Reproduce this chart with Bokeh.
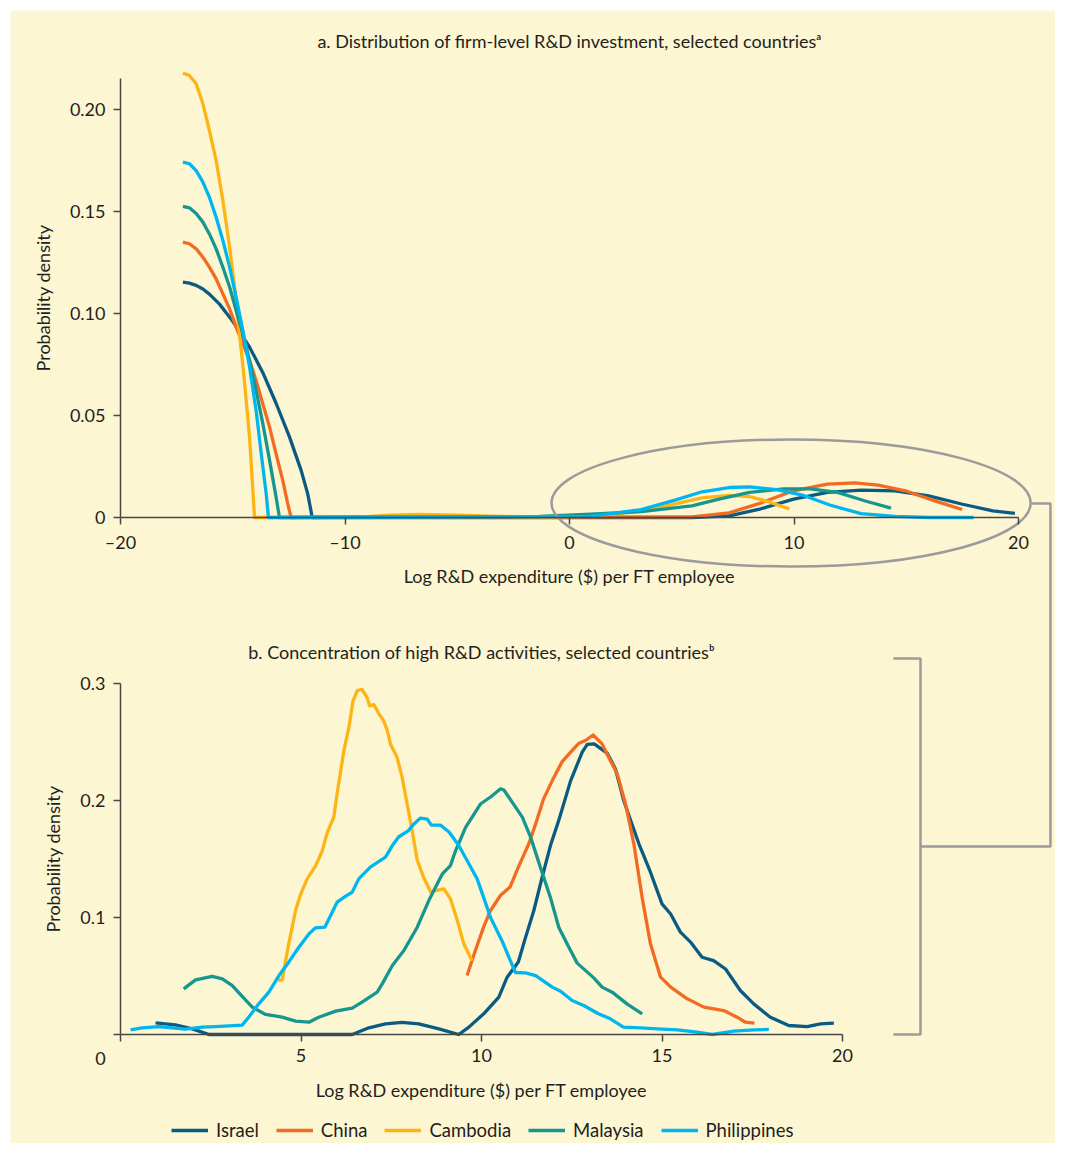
from bokeh.plotting import figure
from bokeh.models import (Range1d, LinearAxis, FixedTicker, Legend, LegendItem,
                          NumeralTickFormatter)
from bokeh.embed import file_html
from bokeh.resources import INLINE
from bokeh.core.properties import value

# ---------------- data ----------------
countries = ["Israel", "China", "Cambodia", "Malaysia", "Philippines"]

# Panel a: distribution of firm-level R&D investment
a_israel_x = [-17.22, -16.93, -16.63, -16.33, -16.04, -15.59, -15.0, -14.25, -13.66, -13.07, -12.47, -11.95,
              -11.66, -11.46, 5.45, 7.11, 8.47, 9.98, 11.49, 13.0, 14.5, 16.0, 17.51, 18.86, 19.84]
a_israel_y = [0.1154, 0.1149, 0.1138, 0.1120, 0.1095, 0.1046, 0.0962, 0.0835, 0.0710, 0.0560, 0.0394, 0.0230,
              0.0116, 0.0, 0.0, 0.0008, 0.0041, 0.009, 0.0123, 0.0134, 0.0131, 0.0106, 0.0065, 0.0033, 0.002]

a_china_x = [-17.22, -16.93, -16.63, -16.33, -16.04, -15.74, -15.44, -15.14, -14.85, -14.55, -14.25, -13.96,
             -13.66, -13.36, -13.07, -12.77, -12.55, -12.40, 5.45, 7.11, 8.47, 9.98, 11.49, 12.70, 13.75,
             14.96, 16.17, 17.49]
a_china_y = [0.135, 0.1342, 0.1317, 0.1276, 0.1227, 0.117, 0.1096, 0.1023, 0.0933, 0.0851, 0.077, 0.0672,
             0.0557, 0.0443, 0.0312, 0.0181, 0.0067, 0.0, 0.0003, 0.0023, 0.0069, 0.0131, 0.0164, 0.017, 0.0159,
             0.0131, 0.0085, 0.0039]

a_cambodia_x = [-17.22, -16.93, -16.63, -16.33, -16.04, -15.74, -15.44, -15.14, -14.92, -14.70, -14.48, -14.25,
                -14.03, -9.5, -8.0, -6.7, -5.0, -3.5, -1.6, 0.93, 3.19, 4.70, 5.90, 7.11, 8.02, 8.92, 9.80]
a_cambodia_y = [0.2178, 0.2167, 0.2126, 0.2028, 0.1897, 0.175, 0.1554, 0.1325, 0.113, 0.090, 0.067, 0.039,
                0.0, 0.0, 0.0011, 0.0015, 0.0012, 0.0007, 0.0002, 0.0006, 0.0031, 0.0067, 0.0096, 0.0108,
                0.0103, 0.0075, 0.0042]

a_malaysia_x = [-17.22, -16.93, -16.63, -16.33, -16.04, -15.74, -15.44, -15.14, -14.85, -14.55, -14.25, -13.96,
                -13.66, -13.36, -13.07, -12.92, -1.34, 0.93, 3.19, 5.45, 6.66, 8.02, 9.53, 10.73, 11.94,
                13.14, 14.32]
a_malaysia_y = [0.1525, 0.1518, 0.149, 0.1448, 0.139, 0.1317, 0.1227, 0.113, 0.1015, 0.090, 0.077, 0.0623,
                0.046, 0.028, 0.010, 0.0, 0.0005, 0.0016, 0.0029, 0.0057, 0.009, 0.0123, 0.014, 0.014, 0.0123,
                0.0082, 0.0046]

a_philippines_x = [-17.22, -16.93, -16.63, -16.33, -16.04, -15.74, -15.44, -15.14, -14.85, -14.55, -14.25,
                   -13.96, -13.73, -13.51, -13.41, 0.93, 3.19, 4.70, 5.90, 7.11, 8.02, 9.22, 10.43, 11.63,
                   12.99, 14.50, 16.01, 18.0]
a_philippines_y = [0.1742, 0.1734, 0.170, 0.1644, 0.157, 0.1472, 0.1358, 0.1227, 0.108, 0.0917, 0.0737,
                   0.0525, 0.0312, 0.0116, 0.0, 0.0006, 0.0039, 0.0085, 0.0126, 0.0147, 0.015, 0.0137, 0.0108,
                   0.006, 0.0019, 0.0006, 0.0, 0.0]

# Panel b: concentration of high R&D activities
b_israel_x = [0.97, 1.52, 1.99, 2.45, 6.42, 6.88, 7.34, 7.80, 8.26, 8.82, 9.37, 9.65, 10.06, 10.48, 10.71,
              11.02, 11.22, 11.45, 11.68, 11.91, 12.14, 12.47, 12.79, 12.93, 13.12, 13.48, 13.71, 13.94, 14.13,
              14.36, 14.68, 15.0, 15.24, 15.51, 15.79, 16.11, 16.43, 16.76, 17.17, 17.54, 18.0, 18.51, 19.02,
              19.39, 19.76]
b_israel_y = [0.010, 0.0083, 0.0048, 0.0, 0.0, 0.0057, 0.0091, 0.0103, 0.0091, 0.0048, 0.0, 0.0063, 0.0177,
              0.032, 0.049, 0.062, 0.083, 0.106, 0.1345, 0.1615, 0.183, 0.217, 0.2413, 0.248, 0.2484, 0.2405,
              0.227, 0.200, 0.183, 0.163, 0.1387, 0.1117, 0.103, 0.0875, 0.079, 0.066, 0.0632, 0.056, 0.0376,
              0.0262, 0.0148, 0.0077, 0.0068, 0.0091, 0.0097]

b_china_x = [9.60, 9.83, 10.06, 10.25, 10.53, 10.79, 11.0, 11.31, 11.50, 11.72, 11.96, 12.23, 12.47, 12.70,
             12.88, 13.09, 13.34, 13.57, 13.76, 13.99, 14.22, 14.45, 14.68, 14.96, 15.24, 15.70, 16.16, 16.71,
             17.08, 17.31, 17.56]
b_china_y = [0.0504, 0.0718, 0.092, 0.106, 0.119, 0.126, 0.1416, 0.163, 0.180, 0.2014, 0.217, 0.233, 0.2413,
             0.249, 0.2513, 0.256, 0.2484, 0.234, 0.2228, 0.197, 0.163, 0.117, 0.0775, 0.049, 0.0405, 0.0305,
             0.0234, 0.0205, 0.0148, 0.0105, 0.0097]

b_cambodia_x = [4.37, 4.48, 4.66, 4.85, 4.99, 5.17, 5.40, 5.59, 5.72, 5.91, 6.00, 6.19, 6.33, 6.44, 6.56,
                6.69, 6.83, 6.90, 7.02, 7.16, 7.29, 7.39, 7.48, 7.66, 7.80, 7.94, 8.08, 8.22, 8.40, 8.59,
                8.73, 8.96, 9.14, 9.33, 9.51, 9.74]
b_cambodia_y = [0.0462, 0.0467, 0.0775, 0.106, 0.120, 0.133, 0.144, 0.157, 0.172, 0.186, 0.206, 0.243,
                0.263, 0.285, 0.294, 0.295, 0.288, 0.281, 0.282, 0.274, 0.268, 0.260, 0.248, 0.237, 0.220,
                0.197, 0.174, 0.149, 0.134, 0.122, 0.123, 0.1245, 0.116, 0.0974, 0.0775, 0.063]

b_malaysia_x = [1.75, 2.08, 2.54, 2.82, 3.09, 3.37, 3.65, 4.02, 4.48, 4.85, 5.22, 5.49, 5.96, 6.42, 6.69,
                7.11, 7.25, 7.53, 7.85, 8.22, 8.54, 8.91, 9.14, 9.28, 9.56, 9.97, 10.25, 10.53, 10.62, 10.85,
                11.13, 11.36, 11.63, 11.91, 12.14, 12.37, 12.65, 13.11, 13.34, 13.62, 14.03, 14.45]
b_malaysia_y = [0.039, 0.0467, 0.0496, 0.0476, 0.042, 0.0325, 0.0234, 0.0171, 0.0148, 0.0114, 0.0105,
                0.0148, 0.020, 0.0225, 0.0276, 0.0362, 0.0433, 0.059, 0.0718, 0.0917, 0.1145, 0.137, 0.1444,
                0.157, 0.177, 0.197, 0.203, 0.210, 0.209, 0.1986, 0.1858, 0.1687, 0.143, 0.117, 0.0917,
                0.0775, 0.061, 0.0484, 0.0405, 0.0362, 0.0262, 0.0177]

b_philippines_x = [0.28, 0.60, 1.06, 1.43, 1.80, 2.26, 2.63, 3.00, 3.37, 3.55, 3.83, 4.11, 4.39, 4.66, 4.94,
                   5.22, 5.40, 5.66, 5.82, 6.00, 6.23, 6.42, 6.60, 6.92, 7.16, 7.34, 7.53, 7.71, 7.97, 8.13,
                   8.31, 8.50, 8.61, 8.86, 9.10, 9.37, 9.65, 9.88, 10.06, 10.25, 10.57, 10.76, 10.94, 11.22,
                   11.50, 11.96, 12.19, 12.51, 12.83, 13.24, 13.57, 13.93, 14.40, 14.87, 15.42, 15.97, 16.39,
                   16.99, 17.55, 17.96]
b_philippines_y = [0.004, 0.0057, 0.0068, 0.0057, 0.0046, 0.0063, 0.0068, 0.0074, 0.008, 0.0148, 0.0262,
                   0.0362, 0.0504, 0.0618, 0.0746, 0.086, 0.0912, 0.0917, 0.1017, 0.1131, 0.118, 0.1217, 0.133,
                   0.143, 0.148, 0.1516, 0.1615, 0.169, 0.174, 0.180, 0.185, 0.184, 0.179, 0.179, 0.173,
                   0.1615, 0.146, 0.133, 0.117, 0.100, 0.080, 0.066, 0.053, 0.0527, 0.0504, 0.0405, 0.037,
                   0.029, 0.0248, 0.0177, 0.0134, 0.0063, 0.0057, 0.0048, 0.004, 0.002, 0.0, 0.0028, 0.004,
                   0.0043]

a_x_ticks = [-20, -10, 0, 10, 20]
a_y_ticks = [0, 0.05, 0.10, 0.15, 0.20]
b_x_ticks = [0, 5, 10, 15, 20]
b_y_ticks = [0, 0.1, 0.2, 0.3]

title_a = "a. Distribution of firm-level R&D investment, selected countries\u1d43"
title_b = "b. Concentration of high R&D activities, selected countries\u1d47"
x_label = "Log R&D expenditure ($) per FT employee"
y_label = "Probability density"

# ---------------- style ----------------
COLORS = {"Israel": "#0A5B83", "China": "#F26B22", "Cambodia": "#FDB515",
          "Malaysia": "#15978F", "Philippines": "#00B6EE"}
BG = "#FDF6D3"
AX = "#4A4646"
TXT = "#231F20"
GRAY = "#9B9B9B"
FONT = "Lato"
FS = "18px"
W, H = 1055, 1143

p = figure(width=W, height=H, x_range=Range1d(-24.900, 21.648), y_range=Range1d(-0.30686, 0.24853),
           x_axis_type=None, y_axis_type=None, toolbar_location=None, output_backend="svg",
           min_border=0, min_border_left=10, min_border_top=10,
           background_fill_color=BG, border_fill_color="white", outline_line_color=None)
p.extra_x_ranges = {"b": Range1d(-3.0471, 25.90)}
p.extra_y_ranges = {"b": Range1d(-0.09316, 0.87521)}


def style(ax, label_standoff, title_standoff):
    ax.axis_line_color = AX
    ax.axis_line_width = 1.5
    ax.major_tick_line_color = AX
    ax.major_tick_line_width = 1.5
    ax.major_tick_in = 0
    ax.major_tick_out = 7
    ax.minor_tick_in = 0
    ax.minor_tick_out = 0
    ax.major_label_text_font = FONT
    ax.major_label_text_font_size = FS
    ax.major_label_text_color = TXT
    ax.major_label_standoff = label_standoff
    ax.axis_label_text_font = FONT
    ax.axis_label_text_font_size = FS
    ax.axis_label_text_font_style = "normal"
    ax.axis_label_text_color = TXT
    ax.axis_label_standoff = title_standoff


xa = LinearAxis(fixed_location=0, bounds=(-20, 20), ticker=FixedTicker(ticks=a_x_ticks),
                major_label_overrides={-20: "\u201320", -10: "\u201310"}, axis_label=x_label)
style(xa, 6, 9)
p.add_layout(xa, "below")
ya = LinearAxis(fixed_location=-20, bounds=(0, 0.215), ticker=FixedTicker(ticks=a_y_ticks),
                formatter=NumeralTickFormatter(format="0.00"), major_label_overrides={0: "0"},
                axis_label=y_label)
style(ya, 8, 13)
p.add_layout(ya, "left")

xb = LinearAxis(x_range_name="b", y_range_name="b", fixed_location=0, bounds=(0, 20),
                ticker=FixedTicker(ticks=b_x_ticks), major_label_overrides={0: ""}, axis_label=x_label)
style(xb, 7, 14)
p.add_layout(xb, "below")
yb = LinearAxis(x_range_name="b", y_range_name="b", fixed_location=0, bounds=(0, 0.3),
                ticker=FixedTicker(ticks=b_y_ticks), formatter=NumeralTickFormatter(format="0.0"),
                major_label_overrides={0: ""}, axis_label=y_label)
style(yb, 8, 13)
p.add_layout(yb, "left")

a_data = {"Israel": (a_israel_x, a_israel_y), "China": (a_china_x, a_china_y),
          "Cambodia": (a_cambodia_x, a_cambodia_y), "Malaysia": (a_malaysia_x, a_malaysia_y),
          "Philippines": (a_philippines_x, a_philippines_y)}
b_data = {"Israel": (b_israel_x, b_israel_y), "China": (b_china_x, b_china_y),
          "Cambodia": (b_cambodia_x, b_cambodia_y), "Malaysia": (b_malaysia_x, b_malaysia_y),
          "Philippines": (b_philippines_x, b_philippines_y)}

for c in countries:
    xs, ys = a_data[c]
    p.line(xs, ys, line_color=COLORS[c], line_width=3.3, line_join="round")

b_renderers = {}
for c in countries:
    xs, ys = b_data[c]
    b_renderers[c] = p.line(xs, ys, line_color=COLORS[c], line_width=3.3, line_join="round",
                            x_range_name="b", y_range_name="b")

# ellipse highlight on panel a and bracket linking to panel b
p.ellipse(x=[9.87], y=[0.0071], width=[21.34], height=[0.0623], fill_color=None,
          line_color=GRAY, line_width=2.5)
p.line([25.24, 25.76, 25.76, 22.16], [0.4538, 0.4538, 0.1607, 0.1607], line_color=GRAY, line_width=2.5,
       x_range_name="b", y_range_name="b")
p.line([21.41, 22.16, 22.16, 21.41], [0.3214, 0.3214, 0.0, 0.0], line_color=GRAY, line_width=2.5,
       x_range_name="b", y_range_name="b")

# titles
p.text(x=[0], y=[0.2338], text=[title_a], text_align="center", text_baseline="middle",
       text_font=value(FONT), text_font_size=FS, text_color=TXT)
p.text(x=[10], y=[0.3265], text=[title_b], text_align="center", text_baseline="middle",
       text_font=value(FONT), text_font_size=FS, text_color=TXT,
       x_range_name="b", y_range_name="b")
# origin label of panel b
p.text(x=[0], y=[0], text=["0"], x_offset=-20, y_offset=24, text_align="center", text_baseline="middle",
       text_font=value(FONT), text_font_size=FS, text_color=TXT,
       x_range_name="b", y_range_name="b")

legend = Legend(items=[LegendItem(label=c, renderers=[b_renderers[c]]) for c in countries],
                orientation="horizontal", location=(161, 2), background_fill_alpha=0,
                border_line_alpha=0, padding=0, margin=0, spacing=17, glyph_width=37, glyph_height=16,
                label_standoff=8, label_height=16, label_text_font=FONT, label_text_font_size="18.5px",
                label_text_color=TXT)
p.add_layout(legend, "center")

open("out.html", "w").write(file_html(p, INLINE))
